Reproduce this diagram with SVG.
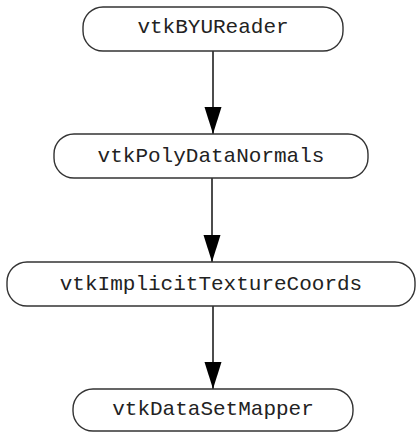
<svg xmlns="http://www.w3.org/2000/svg" width="417" height="432" viewBox="0 0 417 432">
<style>
.node rect{fill:#fff;stroke:#333;stroke-width:1.4}
.node text{font-family:"Liberation Mono","Courier New",monospace;font-size:21px;fill:#222;text-anchor:middle;dominant-baseline:central}
.edge line{stroke:#111;stroke-width:1.5}
</style>
<defs>
<marker id="arr" markerUnits="userSpaceOnUse" markerWidth="28" markerHeight="18" refX="27" refY="9" orient="auto" viewBox="0 0 28 18">
<path d="M0,0.5 L27,9 L0,17.5 Z" fill="#000"/>
</marker>
</defs>
<rect width="417" height="432" fill="#fff"/>
<g id="edges" class="edge">
<line x1="213" y1="51" x2="213" y2="134" marker-end="url(#arr)"/>
<line x1="212" y1="178" x2="212" y2="262" marker-end="url(#arr)"/>
<line x1="213" y1="306" x2="213" y2="389" marker-end="url(#arr)"/>
</g>
<g id="vtkBYUReader" class="node">
<rect x="83" y="7" width="260" height="44" rx="20" ry="20"/>
<text x="213" y="27">vtkBYUReader</text>
</g>
<g id="vtkPolyDataNormals" class="node">
<rect x="54" y="134" width="314" height="44" rx="20" ry="20"/>
<text x="211" y="156">vtkPolyDataNormals</text>
</g>
<g id="vtkImplicitTextureCoords" class="node">
<rect x="7" y="262" width="408" height="44" rx="20" ry="20"/>
<text x="211" y="284">vtkImplicitTextureCoords</text>
</g>
<g id="vtkDataSetMapper" class="node">
<rect x="73" y="389" width="280" height="42" rx="20" ry="20"/>
<text x="213" y="409">vtkDataSetMapper</text>
</g>
</svg>
